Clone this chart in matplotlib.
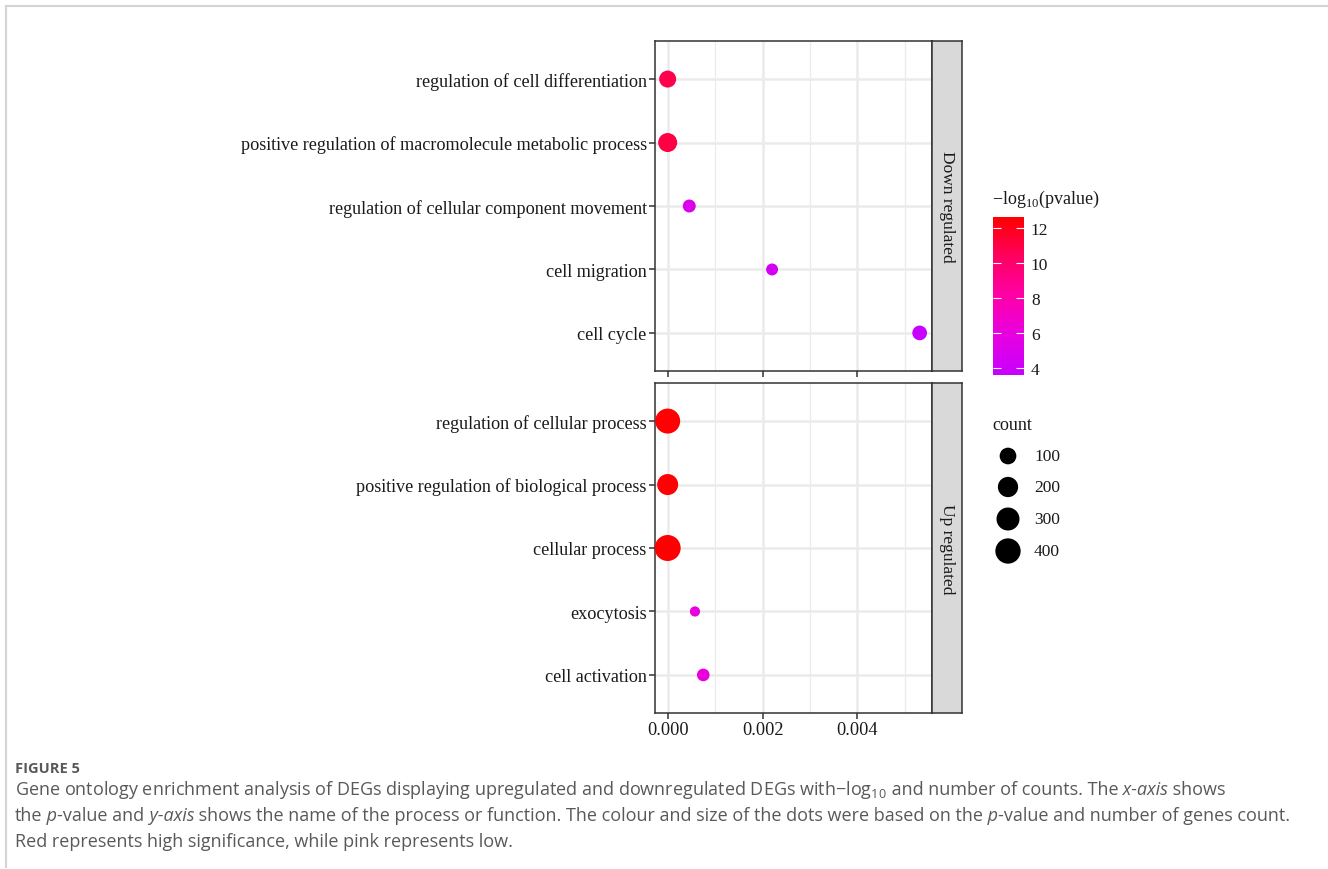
import numpy as np
import matplotlib
matplotlib.use("Agg")
import matplotlib.pyplot as plt
from matplotlib.colors import LinearSegmentedColormap, Normalize
from matplotlib.cm import ScalarMappable
from matplotlib.lines import Line2D

# ---------------- data ----------------
down_terms = ["regulation of cell differentiation",
              "positive regulation of macromolecule metabolic process",
              "regulation of cellular component movement",
              "cell migration",
              "cell cycle"]
down_pvalue = [0.00000, 0.00000, 0.000455, 0.00220, 0.00531]
down_logp = [10.8, 11.0, 5.0, 4.4, 3.58]
down_count = [107, 161, 32, 20, 59]

up_terms = ["regulation of cellular process",
            "positive regulation of biological process",
            "cellular process",
            "exocytosis",
            "cell activation"]
up_pvalue = [0.00000, 0.00000, 0.00000, 0.000575, 0.00075]
up_logp = [12.55, 12.5, 12.63, 6.0, 6.1]
up_count = [386, 225, 433, 6, 28]

panel_labels = ["Down regulated", "Up regulated"]
x_ticks = [0.000, 0.002, 0.004]
x_tick_labels = ["0.000", "0.002", "0.004"]
cbar_ticks = [4, 6, 8, 10, 12]
legend_counts = [100, 200, 300, 400]

# ---------------- style ----------------
W, H, DPI = 1328, 870, 100
SERIF = "Liberation Serif"
SANS = "Open Sans"
plt.rcParams["font.family"] = [SERIF, "DejaVu Serif"]
plt.rcParams["mathtext.fontset"] = "custom"
plt.rcParams["mathtext.rm"] = SERIF

cmap = LinearSegmentedColormap.from_list(
    "pv", [(0.0, "#c800ff"), (0.28, "#ea00dc"), (0.5, "#ff00a8"),
           (0.75, "#ff0060"), (1.0, "#ff0000")])
all_logp = down_logp + up_logp
norm = Normalize(vmin=min(all_logp), vmax=max(all_logp))


def count_to_s(c):
    d_px = 8.1 + 0.86 * np.sqrt(np.asarray(c, dtype=float))
    return (d_px * 72.0 / DPI) ** 2


fig = plt.figure(figsize=(W / DPI, H / DPI), dpi=DPI)


def fx(px):
    return px / W


def fy(py):
    return 1 - py / H


PX_L, PX_R = 655, 932
STRIP_R = 962
panels = [(42, 372), (384, 714)]
XMIN, XMAX = -0.000267, 0.00557
grey20 = "#333333"
txt = "#1a1a1a"

datasets = [(down_terms, down_pvalue, down_logp, down_count),
            (up_terms, up_pvalue, up_logp, up_count)]

for i, ((top, bot), (terms, pv, lp, cnt)) in enumerate(zip(panels, datasets)):
    ax = fig.add_axes([fx(PX_L), fy(bot), fx(PX_R - PX_L), (bot - top) / H])
    n = len(terms)
    ypos = np.arange(n, 0, -1)
    ax.set_xlim(XMIN, XMAX)
    ax.set_ylim(0.4, n + 0.6)
    for xv in [0.001, 0.003, 0.005]:
        ax.axvline(xv, color="#ebebeb", lw=0.9, zorder=0)
    for xv in x_ticks:
        ax.axvline(xv, color="#ebebeb", lw=1.8, zorder=0)
    for yv in ypos:
        ax.axhline(yv, color="#ebebeb", lw=1.8, zorder=0)
    ax.scatter(pv, ypos, s=count_to_s(cnt), c=cmap(norm(lp)),
               edgecolors="none", zorder=3)
    ax.set_yticks(ypos)
    ax.set_yticklabels(terms, fontsize=13.1, color=txt)
    ax.set_xticks(x_ticks)
    if i == 1:
        ax.set_xticklabels(x_tick_labels, fontsize=13.2, color=txt)
    else:
        ax.set_xticklabels([])
        ax.tick_params(axis="x", length=0)
    ax.tick_params(axis="both", direction="out", length=4, width=1.1,
                   color=grey20, pad=2)
    for sp in ax.spines.values():
        sp.set_color(grey20)
        sp.set_linewidth(1.1)
    ax.set_axisbelow(True)

    # strip
    sax = fig.add_axes([fx(PX_R), fy(bot), fx(STRIP_R - PX_R), (bot - top) / H])
    sax.set_facecolor("#d9d9d9")
    sax.set_xticks([])
    sax.set_yticks([])
    for sp in sax.spines.values():
        sp.set_color(grey20)
        sp.set_linewidth(1.1)
    sax.text(0.5, 0.5, panel_labels[i], rotation=-90, ha="center",
             va="center", fontsize=12.5, color=txt,
             transform=sax.transAxes)

# colorbar
cax = fig.add_axes([fx(993), fy(376), fx(1024 - 993), (376 - 218) / H])
cb = fig.colorbar(ScalarMappable(norm=norm, cmap=cmap), cax=cax)
cb.outline.set_visible(False)
cb.set_ticks(cbar_ticks)
cax.tick_params(direction="in", length=6, width=0.8, color="white",
                left=True, right=True, labelleft=False, labelright=True,
                labelsize=12.5, labelcolor=txt, pad=5)
fig.text(fx(992), fy(199), "\u2212log$_{\\mathregular{10}}$(pvalue)",
         fontsize=13, ha="left", va="center", color=txt)

# size legend
fig.text(fx(992), fy(426), "count", fontsize=13, ha="left",
         va="center", color=txt)
lax = fig.add_axes([fx(990), fy(568), fx(80), (568 - 441) / H])
lax.set_xlim(0, 80)
lax.set_ylim(568, 441)
lax.axis("off")
ly = [457, 488, 520, 552]
lax.scatter([18] * len(legend_counts), ly, s=count_to_s(legend_counts),
            c="black", edgecolors="none")
for c, yy in zip(legend_counts, ly):
    lax.text(44, yy, str(c), fontsize=12.5, va="center", ha="left",
             color=txt)

# figure border lines
fig.add_artist(Line2D([fx(6), 1], [fy(7), fy(7)], color="#d4d4d4", lw=1.5))
fig.add_artist(Line2D([fx(6), fx(6)], [fy(7), fy(868)], color="#d4d4d4",
                      lw=1.5))

# caption
cap_color = "#58595b"
fig.text(fx(15), fy(769), "FIGURE 5", fontsize=10.5, fontweight="bold",
         family=SANS, color=cap_color, ha="left", va="center")

renderer = fig.canvas.get_renderer()
plt.rcParams["mathtext.rm"] = SANS


def rich_line(x_px, y_px, pieces, size=13.0):
    x = x_px
    for s, style in pieces:
        t = fig.text(fx(x), fy(y_px), s, fontsize=size, family=SANS,
                     style=style, color=cap_color, ha="left",
                     va="baseline")
        x += t.get_window_extent(renderer=renderer).width


rich_line(15, 795, [
    ("Gene ontology enrichment analysis of DEGs displaying upregulated and "
     "downregulated DEGs with\u2212log$_{\\mathregular{10}}$", "normal"),
    (" and number of counts. The", "normal"),
    (" x-axis", "italic"), (" shows", "normal")])
rich_line(15, 821, [
    ("the", "normal"), (" p", "italic"), ("-value and", "normal"),
    (" y-axis", "italic"),
    (" shows the name of the process or function. The colour and size of "
     "the dots were based on the", "normal"),
    (" p", "italic"),
    ("-value and number of genes count.", "normal")])
rich_line(15, 847, [
    ("Red represents high significance, while pink represents low.",
     "normal")])

fig.savefig("out.png", dpi=DPI, facecolor="white")
